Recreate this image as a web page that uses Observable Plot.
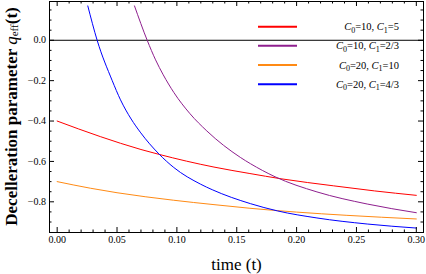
<!DOCTYPE html>
<html>
<head>
<meta charset="utf-8">
<script src="https://cdn.jsdelivr.net/npm/d3@7"></script>
<script src="https://cdn.jsdelivr.net/npm/@observablehq/plot@0.6"></script>
<style>
  html, body { margin: 0; padding: 0; background: #fff; }
  svg { display: block; }
</style>
</head>
<body>
<div id="chart"></div>
<script>
// ---- data ----
const seriesNames = ["C0=10, C1=5", "C0=10, C1=2/3", "C0=20, C1=10", "C0=20, C1=4/3"];
const seriesColors = ["#ff0000", "#8e1f8e", "#ff8a14", "#0000ff"];

const tRed = [0, 0.036, 0.07, 0.085, 0.131, 0.161, 0.187, 0.231, 0.265, 0.30];
const qRed = [-0.400, -0.477, -0.541, -0.565, -0.628, -0.660, -0.686, -0.721, -0.746, -0.768];

const tPurple = [0.0646, 0.0752, 0.0822, 0.0886, 0.0974, 0.111, 0.125, 0.153, 0.1614, 0.182, 0.217, 0.259, 0.30];
const qPurple = [0.17, 0.0, -0.097, -0.171, -0.258, -0.364, -0.449, -0.580, -0.611, -0.676, -0.751, -0.811, -0.854];

const tOrange = [0, 0.028, 0.05, 0.097, 0.131, 0.161, 0.20, 0.242, 0.30];
const qOrange = [-0.700, -0.733, -0.755, -0.792, -0.814, -0.832, -0.851, -0.867, -0.885];

const tBlue = [0.0256, 0.0334, 0.046, 0.0529, 0.0618, 0.0694, 0.085, 0.0974, 0.1199, 0.1295, 0.1614, 0.184, 0.217, 0.259, 0.30];
const qBlue = [0.17, 0.0, -0.2, -0.295, -0.390, -0.455, -0.563, -0.630, -0.713, -0.740, -0.809, -0.845, -0.880, -0.910, -0.930];

const xMajor = [0, 0.05, 0.10, 0.15, 0.20, 0.25, 0.30];
const xMinor = d3.range(0, 31).map(i => i / 100).filter(v => Math.round(v * 100) % 5 !== 0);
const yMajor = [-0.8, -0.6, -0.4, -0.2, 0.0];
const yMinor = [-0.9, -0.85, -0.75, -0.7, -0.65, -0.55, -0.5, -0.45, -0.35, -0.3, -0.25, -0.15, -0.1, -0.05, 0.05, 0.1, 0.15];

const xLabel = "time (t)";
const yLabelMain = "Decelleration parameter ";

// ---- build table ----
const tables = [[tRed, qRed], [tPurple, qPurple], [tOrange, qOrange], [tBlue, qBlue]];
const data = tables.flatMap(([ts, qs], k) => ts.map((t, i) => ({t, q: qs[i], s: seriesNames[k]})));

const W = 426, H = 274;
const mL = 49, mR = 3, mT = 1, mB = 42;
const fw = W - mL - mR, fh = H - mT - mB;

const serif = "'Liberation Serif', 'Times New Roman', serif";

const plot = Plot.plot({
  width: W,
  height: H,
  marginLeft: mL,
  marginRight: mR,
  marginTop: mT,
  marginBottom: mB,
  style: {fontFamily: serif, fontSize: "10px", color: "#000", background: "#fff"},
  x: {domain: [-0.0064, 0.306]},
  y: {domain: [-0.952, 0.192]},
  color: {domain: seriesNames, range: seriesColors},
  marks: [
    Plot.ruleY([0], {stroke: "#000", strokeWidth: 1}),
    Plot.line(data, {x: "t", y: "q", z: "s", stroke: "s", strokeWidth: 1, curve: "monotone-x"}),
    // inward frame ticks
    Plot.ruleX(xMajor, {insetTop: fh - 5, stroke: "#000"}),
    Plot.ruleX(xMajor, {insetBottom: fh - 5, stroke: "#000"}),
    Plot.ruleX(xMinor, {insetTop: fh - 2.5, stroke: "#000"}),
    Plot.ruleX(xMinor, {insetBottom: fh - 2.5, stroke: "#000"}),
    Plot.ruleY(yMajor, {insetRight: fw - 5, stroke: "#000"}),
    Plot.ruleY(yMajor, {insetLeft: fw - 5, stroke: "#000"}),
    Plot.ruleY(yMinor, {insetRight: fw - 2.5, stroke: "#000"}),
    Plot.ruleY(yMinor, {insetLeft: fw - 2.5, stroke: "#000"}),
    Plot.frame({stroke: "#000", strokeWidth: 1}),
    Plot.axisX(xMajor, {tickSize: 0, tickPadding: 3, tickFormat: d3.format(".2f"), label: null, fontSize: 10}),
    Plot.axisY(yMajor, {tickSize: 0, tickPadding: 3.5, tickFormat: d3.format(".1f"), label: null, fontSize: 10}),
    Plot.text([xLabel], {text: d => d, frameAnchor: "bottom", dy: 32, lineAnchor: "middle", fontSize: 17, fontFamily: serif})
  ]
});

document.getElementById("chart").appendChild(plot);

const svg = d3.select(plot);

// y-axis label with subscript
const yl = svg.append("text")
  .attr("transform", `translate(11,${mT + fh / 2}) rotate(-90)`)
  .attr("text-anchor", "middle")
  .attr("dominant-baseline", "central")
  .attr("font-family", serif)
  .attr("font-size", 17)
  .attr("font-weight", "bold")
  .attr("fill", "#000");
yl.append("tspan").text(yLabelMain);
yl.append("tspan").attr("font-style", "italic").attr("font-weight", "normal").text("q");
yl.append("tspan").attr("font-size", 11).attr("font-weight", "normal").attr("dy", 3).text("eff");
yl.append("tspan").attr("dy", -3).text("(t)");

// legend (inside plot, top-right)
const lg = svg.append("g");
const legendY = [26.7, 45.7, 65, 84.3];
seriesNames.forEach((name, i) => {
  const y = legendY[i];
  lg.append("line").attr("x1", 258).attr("x2", 297).attr("y1", y).attr("y2", y)
    .attr("stroke", seriesColors[i]).attr("stroke-width", 2);
  const m = name.match(/C0=(.+), C1=(.+)/);
  const tx = lg.append("text").attr("x", 399).attr("y", y + 3.5)
    .attr("text-anchor", "end").attr("font-family", serif).attr("font-size", 10.5).attr("fill", "#000");
  tx.append("tspan").attr("font-style", "italic").text("C");
  tx.append("tspan").attr("font-size", 8).attr("dy", 2.5).text("0");
  tx.append("tspan").attr("dy", -2.5).text("=" + m[1] + ", ");
  tx.append("tspan").attr("font-style", "italic").text("C");
  tx.append("tspan").attr("font-size", 8).attr("dy", 2.5).text("1");
  tx.append("tspan").attr("dy", -2.5).text("=" + m[2]);
});
</script>
</body>
</html>
